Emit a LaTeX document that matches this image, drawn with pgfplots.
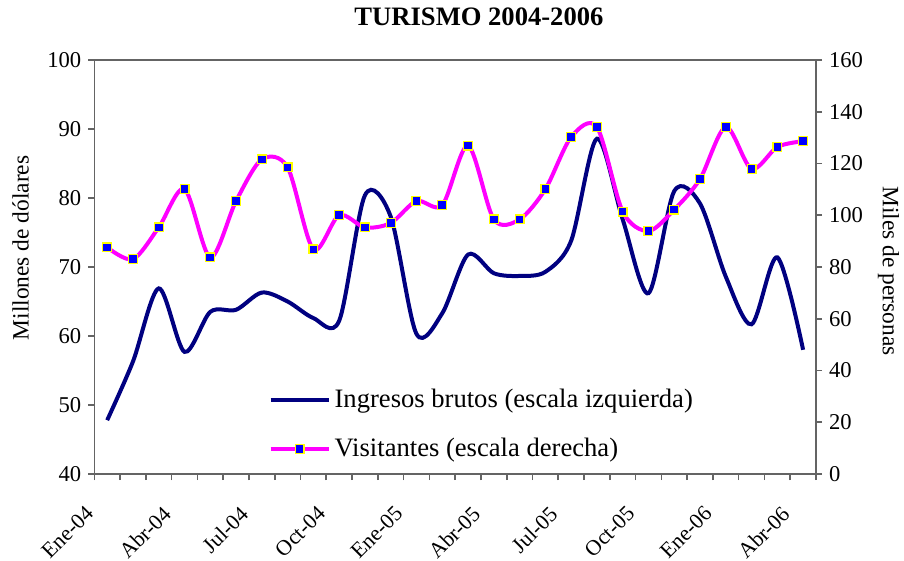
\documentclass[border=0pt]{standalone}
\usepackage{pgfplots}
\usepackage{pgfplotstable}
\pgfplotsset{compat=1.18}
\usepackage{fontspec}
\setmainfont{Liberation Serif}
\definecolor{navyline}{RGB}{0,0,128}
\definecolor{axisgray}{RGB}{100,100,100}
\definecolor{magline}{RGB}{255,0,255}
\definecolor{markblue}{RGB}{0,0,255}
\definecolor{markyellow}{RGB}{255,255,0}

\pgfplotstableread{
i ing vis
0 47.8 87.6
1 56.3 83.0
2 66.9 95.3
3 57.7 110.1
4 63.5 83.7
5 63.8 105.5
6 66.3 121.6
7 65.0 118.5
8 62.6 86.8
9 62.2 100.0
10 80.4 95.3
11 77.3 97.0
12 60.3 105.5
13 63.3 103.9
14 71.8 126.9
15 69.1 98.4
16 68.7 98.4
17 69.3 110.1
18 73.8 130.2
19 88.6 134.1
20 76.9 101.4
21 66.2 93.9
22 81.0 102.2
23 79.2 114.0
24 68.6 134.1
25 61.7 117.9
26 71.4 126.4
27 58.0 128.6
}\datatable

\pgfplotsset{
  common/.style={
    scale only axis, width=360.85pt, height=207pt,
    xmin=-0.5, xmax=27.5, at={(0,0)}, anchor=south west,
    tick align=outside, major tick length=3pt, minor tick length=3pt,
    /pgf/number format/assume math mode=true,
    ticklabel style={font=\fontsize{11.3}{13}\selectfont},
    axis line style={axisgray, line width=0.8pt},
    tick style={axisgray, line width=0.8pt},
    label style={font=\fontsize{11.7}{14}\selectfont},
  }
}

\begin{document}
\begin{tikzpicture}
\useasboundingbox (-47.15pt,-43.5pt) rectangle (404.85pt,237pt);
\begin{axis}[common,
  ymin=40, ymax=100, ytick={40,50,...,100}, ytick pos=left, xtick pos=bottom,
  xtick={-0.5,2.5,...,26.5},
  minor xtick={-0.5,0.5,...,27.5},
  xticklabels={Ene-04,Abr-04,Jul-04,Oct-04,Ene-05,Abr-05,Jul-05,Oct-05,Ene-06,Abr-06},
  xticklabel style={xshift=-5pt, yshift=-7.5pt, rotate=45, anchor=north east, font=\fontsize{10.9}{13}\selectfont},
  ylabel={Millones de dólares},
  ylabel style={at={(axis description cs:-0.1022,0.546)}, anchor=center},
  title={TURISMO 2004-2006},
  title style={at={(axis description cs:0.533,1.0748)}, anchor=center, font=\bfseries\fontsize{13.3}{16}\selectfont},
]
\addplot[navyline, line width=2pt, smooth] table[x=i,y=ing]{\datatable};
\end{axis}
\begin{axis}[common,
  ymin=0, ymax=160, ytick={0,20,...,160},
  axis y line*=right, axis x line=none,
  ylabel={Miles de personas},
  ylabel style={at={(axis description cs:1.1005,0.49)}, anchor=center, rotate=180},
  legend style={draw=none, fill=none, at={(0.241,0.12)}, anchor=west, row sep=10pt,
    font=\fontsize{13.3}{16}\selectfont, inner sep=0pt},
  legend cell align=left,
  legend image code/.code={\draw[mark repeat=2,mark phase=2,#1] plot coordinates {(0pt,0pt) (14.5pt,0pt) (29pt,0pt)};},
]
\addlegendimage{navyline, line width=2pt}
\addlegendentry{Ingresos brutos (escala izquierda)}
\addplot[magline, line width=2pt, smooth, mark=square*, mark size=2.2pt,
  mark options={fill=markblue, draw=markyellow, line width=0.6pt}] table[x=i,y=vis]{\datatable};
\addlegendentry{Visitantes (escala derecha)}
\end{axis}
\end{tikzpicture}
\end{document}
